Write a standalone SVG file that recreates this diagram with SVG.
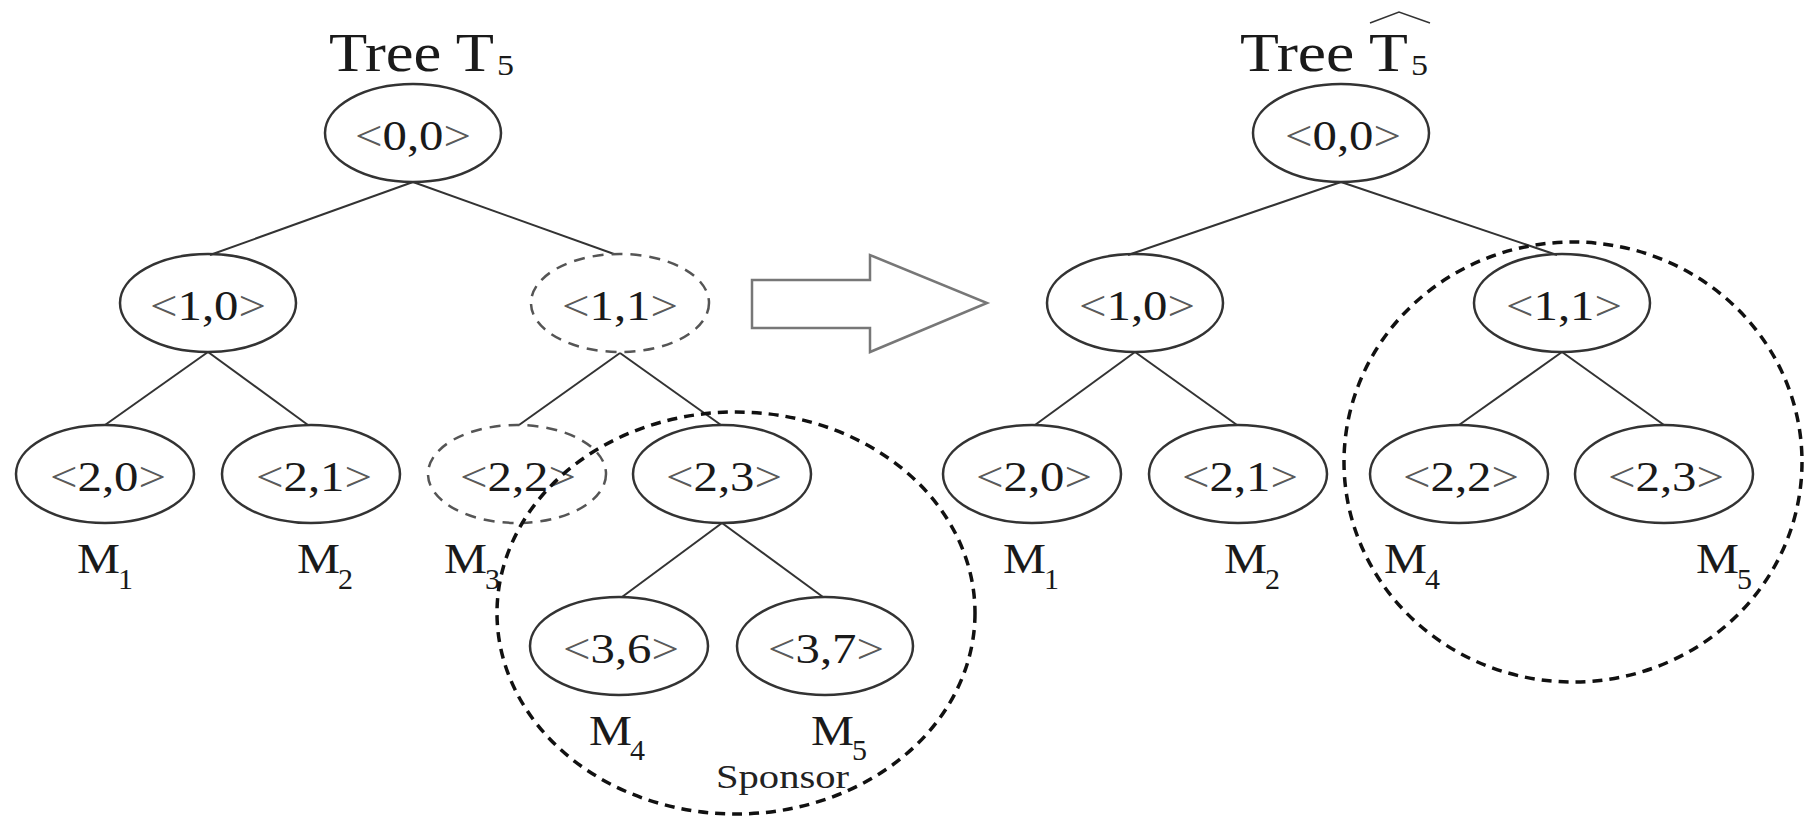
<svg xmlns="http://www.w3.org/2000/svg" width="1804" height="817" viewBox="0 0 1804 817">
  <style>
    .bg { fill: #ffffff; }
    .node { fill: none; stroke: #333333; stroke-width: 2.5; }
    .node-dash { fill: none; stroke: #555555; stroke-width: 2.5; stroke-dasharray: 11 8; }
    .group-dash { fill: none; stroke: #111111; stroke-width: 3.5; stroke-dasharray: 10 7; }
    .edge { stroke: #333333; stroke-width: 2; fill: none; }
    .lbl { font-family: "Liberation Serif", "Times New Roman", serif; font-size: 42px; fill: #1a1a1a; text-anchor: middle; }
    .br { fill: #5a5a5a; }
    .title { font-family: "Liberation Serif", "Times New Roman", serif; font-size: 54px; fill: #1a1a1a; }
    .sub-title { font-family: "Liberation Serif", "Times New Roman", serif; font-size: 30px; fill: #1a1a1a; }
    .m { font-family: "Liberation Serif", "Times New Roman", serif; font-size: 42px; fill: #1a1a1a; }
    .msub { font-family: "Liberation Serif", "Times New Roman", serif; font-size: 30px; fill: #1a1a1a; }
    .note { font-family: "Liberation Serif", "Times New Roman", serif; font-size: 33px; fill: #222222; }
    .arrow { fill: #ffffff; stroke: #777777; stroke-width: 2.5; stroke-linejoin: miter; }
  </style>
  <rect class="bg" x="0" y="0" width="1804" height="817"/>

  <!-- titles -->
  <g id="title-left">
    <text class="title" x="329" y="71" textLength="165" lengthAdjust="spacingAndGlyphs">Tree T</text>
    <text class="sub-title" x="497" y="75" textLength="17" lengthAdjust="spacingAndGlyphs">5</text>
  </g>
  <g id="title-right">
    <text class="title" x="1240" y="71" textLength="168" lengthAdjust="spacingAndGlyphs">Tree T</text>
    <text class="sub-title" x="1411" y="75" textLength="17" lengthAdjust="spacingAndGlyphs">5</text>
    <polyline points="1370,23 1399,12 1430,23" fill="none" stroke="#333333" stroke-width="1.5"/>
  </g>

  <!-- tree edges -->
  <g id="connectors">
    <line class="edge" x1="413" y1="182" x2="210" y2="255"/>
    <line class="edge" x1="413" y1="182" x2="614" y2="254"/>
    <line class="edge" x1="208" y1="352" x2="105" y2="425"/>
    <line class="edge" x1="208" y1="352" x2="308" y2="425"/>
    <line class="edge" x1="620" y1="353" x2="519" y2="425"/>
    <line class="edge" x1="620" y1="353" x2="721" y2="425"/>
    <line class="edge" x1="722" y1="523" x2="622" y2="597"/>
    <line class="edge" x1="722" y1="523" x2="823" y2="597"/>

    <line class="edge" x1="1341" y1="182" x2="1128" y2="255"/>
    <line class="edge" x1="1341" y1="182" x2="1557" y2="255"/>
    <line class="edge" x1="1135" y1="352" x2="1035" y2="425"/>
    <line class="edge" x1="1135" y1="352" x2="1237" y2="425"/>
    <line class="edge" x1="1562" y1="352" x2="1459" y2="425"/>
    <line class="edge" x1="1562" y1="352" x2="1664" y2="425"/>
  </g>

  <!-- left tree nodes -->
  <g id="L-0-0">
    <ellipse class="node" cx="413" cy="133" rx="88" ry="49"/>
    <text class="lbl" x="413" y="150" textLength="116" lengthAdjust="spacingAndGlyphs"><tspan class="br">&lt;</tspan>0,0<tspan class="br">&gt;</tspan></text>
  </g>
  <g id="L-1-0">
    <ellipse class="node" cx="208" cy="303" rx="88" ry="49"/>
    <text class="lbl" x="208" y="320" textLength="116" lengthAdjust="spacingAndGlyphs"><tspan class="br">&lt;</tspan>1,0<tspan class="br">&gt;</tspan></text>
  </g>
  <g id="L-1-1">
    <ellipse class="node-dash" cx="620" cy="303" rx="89" ry="49"/>
    <text class="lbl" x="620" y="320" textLength="116" lengthAdjust="spacingAndGlyphs"><tspan class="br">&lt;</tspan>1,1<tspan class="br">&gt;</tspan></text>
  </g>
  <g id="L-2-0">
    <ellipse class="node" cx="105" cy="474" rx="89" ry="49"/>
    <text class="lbl" x="108" y="491" textLength="116" lengthAdjust="spacingAndGlyphs"><tspan class="br">&lt;</tspan>2,0<tspan class="br">&gt;</tspan></text>
  </g>
  <g id="L-2-1">
    <ellipse class="node" cx="311" cy="474" rx="89" ry="49"/>
    <text class="lbl" x="314" y="491" textLength="116" lengthAdjust="spacingAndGlyphs"><tspan class="br">&lt;</tspan>2,1<tspan class="br">&gt;</tspan></text>
  </g>
  <g id="L-2-2">
    <ellipse class="node-dash" cx="517" cy="474" rx="89" ry="49"/>
    <text class="lbl" x="518" y="491" textLength="116" lengthAdjust="spacingAndGlyphs"><tspan class="br">&lt;</tspan>2,2<tspan class="br">&gt;</tspan></text>
  </g>
  <g id="L-2-3">
    <ellipse class="node" cx="722" cy="474" rx="89" ry="49"/>
    <text class="lbl" x="724" y="491" textLength="116" lengthAdjust="spacingAndGlyphs"><tspan class="br">&lt;</tspan>2,3<tspan class="br">&gt;</tspan></text>
  </g>
  <g id="L-3-6">
    <ellipse class="node" cx="619" cy="646" rx="89" ry="49"/>
    <text class="lbl" x="621" y="663" textLength="116" lengthAdjust="spacingAndGlyphs"><tspan class="br">&lt;</tspan>3,6<tspan class="br">&gt;</tspan></text>
  </g>
  <g id="L-3-7">
    <ellipse class="node" cx="825" cy="646" rx="88" ry="49"/>
    <text class="lbl" x="826" y="663" textLength="116" lengthAdjust="spacingAndGlyphs"><tspan class="br">&lt;</tspan>3,7<tspan class="br">&gt;</tspan></text>
  </g>

  <!-- left tree member labels -->
  <g id="L-members">
    <text class="m" x="77" y="573" textLength="43" lengthAdjust="spacingAndGlyphs">M</text><text class="msub" x="118" y="589">1</text>
    <text class="m" x="297" y="573" textLength="43" lengthAdjust="spacingAndGlyphs">M</text><text class="msub" x="338" y="589">2</text>
    <text class="m" x="444" y="573" textLength="43" lengthAdjust="spacingAndGlyphs">M</text><text class="msub" x="485" y="589">3</text>
    <text class="m" x="589" y="745" textLength="43" lengthAdjust="spacingAndGlyphs">M</text><text class="msub" x="630" y="760">4</text>
    <text class="m" x="811" y="745" textLength="43" lengthAdjust="spacingAndGlyphs">M</text><text class="msub" x="852" y="760">5</text>
    <text class="note" x="716" y="788" textLength="133" lengthAdjust="spacingAndGlyphs">Sponsor</text>
  </g>

  <!-- sponsor subtree -->
  <g id="sponsor-group">
    <ellipse class="group-dash" cx="736" cy="613" rx="239" ry="201"/>
  </g>

  <!-- transition arrow -->
  <g id="transition">
    <polygon class="arrow" points="752,280 870,280 870,255 987,303 870,352 870,328 752,328"/>
  </g>

  <!-- right tree nodes -->
  <g id="R-0-0">
    <ellipse class="node" cx="1341" cy="133" rx="88" ry="49"/>
    <text class="lbl" x="1343" y="150" textLength="116" lengthAdjust="spacingAndGlyphs"><tspan class="br">&lt;</tspan>0,0<tspan class="br">&gt;</tspan></text>
  </g>
  <g id="R-1-0">
    <ellipse class="node" cx="1135" cy="303" rx="88" ry="49"/>
    <text class="lbl" x="1137" y="320" textLength="116" lengthAdjust="spacingAndGlyphs"><tspan class="br">&lt;</tspan>1,0<tspan class="br">&gt;</tspan></text>
  </g>
  <g id="R-1-1">
    <ellipse class="node" cx="1562" cy="303" rx="88" ry="49"/>
    <text class="lbl" x="1564" y="320" textLength="116" lengthAdjust="spacingAndGlyphs"><tspan class="br">&lt;</tspan>1,1<tspan class="br">&gt;</tspan></text>
  </g>
  <g id="R-2-0">
    <ellipse class="node" cx="1032" cy="474" rx="89" ry="49"/>
    <text class="lbl" x="1034" y="491" textLength="116" lengthAdjust="spacingAndGlyphs"><tspan class="br">&lt;</tspan>2,0<tspan class="br">&gt;</tspan></text>
  </g>
  <g id="R-2-1">
    <ellipse class="node" cx="1238" cy="474" rx="89" ry="49"/>
    <text class="lbl" x="1240" y="491" textLength="116" lengthAdjust="spacingAndGlyphs"><tspan class="br">&lt;</tspan>2,1<tspan class="br">&gt;</tspan></text>
  </g>
  <g id="R-2-2">
    <ellipse class="node" cx="1459" cy="474" rx="89" ry="49"/>
    <text class="lbl" x="1461" y="491" textLength="116" lengthAdjust="spacingAndGlyphs"><tspan class="br">&lt;</tspan>2,2<tspan class="br">&gt;</tspan></text>
  </g>
  <g id="R-2-3">
    <ellipse class="node" cx="1664" cy="474" rx="89" ry="49"/>
    <text class="lbl" x="1666" y="491" textLength="116" lengthAdjust="spacingAndGlyphs"><tspan class="br">&lt;</tspan>2,3<tspan class="br">&gt;</tspan></text>
  </g>

  <!-- right tree member labels -->
  <g id="R-members">
    <text class="m" x="1003" y="573" textLength="43" lengthAdjust="spacingAndGlyphs">M</text><text class="msub" x="1044" y="589">1</text>
    <text class="m" x="1224" y="573" textLength="43" lengthAdjust="spacingAndGlyphs">M</text><text class="msub" x="1265" y="589">2</text>
    <text class="m" x="1384" y="573" textLength="43" lengthAdjust="spacingAndGlyphs">M</text><text class="msub" x="1425" y="589">4</text>
    <text class="m" x="1696" y="573" textLength="43" lengthAdjust="spacingAndGlyphs">M</text><text class="msub" x="1737" y="589">5</text>
  </g>

  <!-- merged subtree -->
  <g id="merged-group">
    <ellipse class="group-dash" cx="1573" cy="462" rx="229" ry="220"/>
  </g>
</svg>
